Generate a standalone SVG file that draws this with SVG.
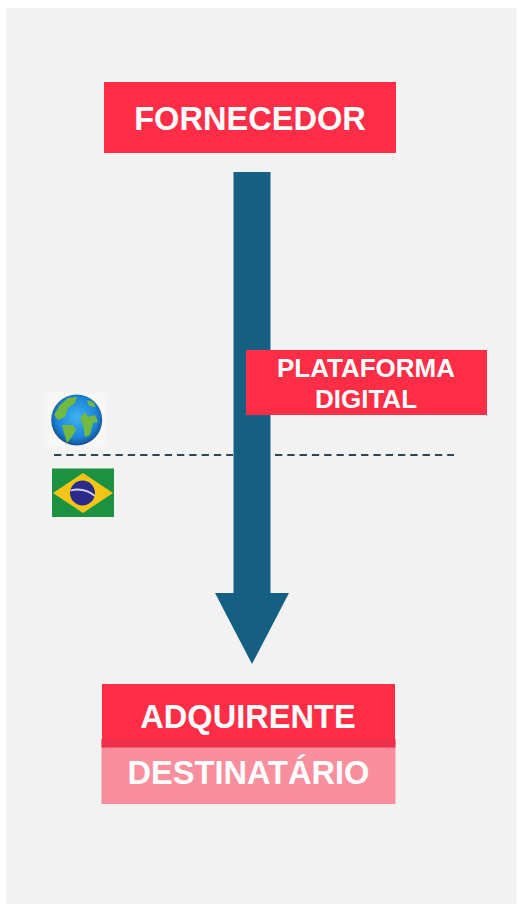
<svg xmlns="http://www.w3.org/2000/svg" width="517" height="904" viewBox="0 0 517 904">
<style>
.box{fill:#ff2d46}
.t{font-family:"Liberation Sans",Arial,sans-serif;font-weight:700;fill:#fff;text-anchor:middle}
.big{font-size:32.6px}
.small{font-size:26px}
.dash{stroke:#2b4656;stroke-width:2;stroke-dasharray:7.3 5;fill:none}
</style>
<defs>
<radialGradient id="sea" cx="50%" cy="45%" r="55%"><stop offset="0" stop-color="#3fb4f0"/><stop offset="0.72" stop-color="#1b84d8"/><stop offset="1" stop-color="#154f8c"/></radialGradient>
<filter id="soft" x="-10%" y="-10%" width="120%" height="120%"><feGaussianBlur stdDeviation="0.7"/></filter>
<filter id="halo" x="-10%" y="-10%" width="120%" height="120%"><feGaussianBlur stdDeviation="1.5"/></filter>
</defs>
<rect id="background" x="6" y="8" width="510.500" height="896" fill="#f2f2f2"/>
<g id="connectors">
<path class="dash" d="M54 455H233"/>
<path class="dash" d="M275 455H454"/>
<path id="arrow" d="M233.500 172H270.500V593H289L252 664L215 593H233.500Z" fill="#156082"/>
</g>
<g id="fornecedor"><rect class="box" x="104" y="82" width="292" height="71"/><text class="t big" x="250" y="130">FORNECEDOR</text></g>
<g id="plataforma"><rect class="box" x="246" y="350" width="241" height="65"/><text class="t small" x="366" y="377">PLATAFORMA</text><text class="t small" x="366" y="408">DIGITAL</text></g>
<g id="adquirente"><rect class="box" x="102" y="684" width="293" height="64"/><text class="t big" x="248" y="728">ADQUIRENTE</text></g>
<g id="destinatario"><rect x="101.500" y="739" width="294" height="65" fill="#f9808f" fill-opacity="0.88"/><rect x="101.500" y="739" width="294" height="8.500" fill="#f0304a"/><text class="t big" x="248.500" y="784">DESTINATÁRIO</text></g>
<g id="globe">
<rect x="45" y="392" width="61" height="55" fill="#f8f7f6" filter="url(#halo)"/>
<circle cx="76.700" cy="420" r="25.500" fill="url(#sea)"/>
<g fill="#72b943" filter="url(#soft)">
<path d="M54 415L60 405L68 398L77 397L75 403L68 408L65 417L58 420Z"/>
<path d="M62 425L73 425L76 430L72 437L67 443L64 433Z"/>
<path d="M80 418L85 412L88 417L95 415L98 422L93 423L90 435L85 437L83 425Z"/>
<path d="M87 400L93 402L96 407L89 406Z"/>
</g>
</g>
<g id="flag" filter="url(#soft)">
<rect x="52" y="468.500" width="62" height="48.500" fill="#1a9142"/>
<path d="M83 473L113 493L83 513L53 493Z" fill="#f5c518"/>
<circle cx="82.500" cy="493" r="12.500" fill="#2c2a8a"/>
<path d="M70.500 490.500Q84 487 95 496" stroke="#cfd3e6" stroke-width="1.800" fill="none"/>
</g>
</svg>
